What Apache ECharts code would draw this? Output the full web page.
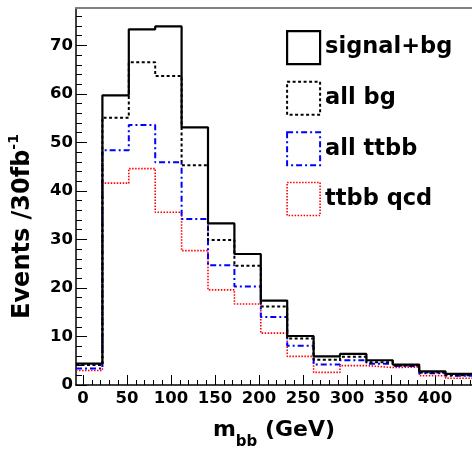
<!DOCTYPE html>
<html>
<head>
<meta charset="utf-8">
<script src="https://cdn.jsdelivr.net/npm/echarts@6/dist/echarts.min.js"></script>
<style>
  html, body { margin: 0; padding: 0; background: #fff; }
  #chart { width: 472px; height: 449px; }
</style>
</head>
<body>
<div id="chart"></div>
<script>
// Bin edges (GeV) of the histogram
const binEdges = [-8, 22, 52, 82, 112, 142, 172, 202, 232, 262, 292, 322, 352, 382, 412, 442];
// Bin contents (Events / 30 fb^-1)
const signalBg = [4.4, 59.7, 73.3, 73.9, 53.1, 33.3, 27.0, 17.4, 10.1, 5.9, 6.4, 5.1, 4.2, 2.8, 2.3];
const allBg    = [4.1, 55.1, 66.5, 63.7, 45.3, 29.9, 24.6, 16.2, 9.6, 5.2, 5.8, 4.7, 4.0, 2.6, 2.0];
const allTtbb  = [3.4, 48.4, 53.6, 45.9, 34.2, 24.7, 20.3, 14.0, 8.1, 4.2, 5.1, 4.4, 3.9, 2.4, 1.9];
const ttbbQcd  = [3.0, 41.6, 44.6, 35.6, 27.7, 19.6, 16.7, 10.7, 5.9, 2.6, 4.0, 3.6, 3.7, 1.9, 1.4];
const seriesNames = ['signal+bg', 'all bg', 'all ttbb', 'ttbb qcd'];
// Axis ticks
const xMajorTicks = [0, 50, 100, 150, 200, 250, 300, 350, 400];
const xMinorTicks = [10, 20, 30, 40, 60, 70, 80, 90, 110, 120, 130, 140, 160, 170, 180, 190, 210, 220, 230, 240, 260, 270, 280, 290, 310, 320, 330, 340, 360, 370, 380, 390, 410, 420, 430, 440];
const yMajorTicks = [0, 10, 20, 30, 40, 50, 60, 70];
const yMinorTicks = [2, 4, 6, 8, 12, 14, 16, 18, 22, 24, 26, 28, 32, 34, 36, 38, 42, 44, 46, 48, 52, 54, 56, 58, 62, 64, 66, 68, 72, 74, 76];

function histData(values) {
  const d = values.map((v, i) => [binEdges[i], v]);
  d.push([binEdges[binEdges.length - 1], values[values.length - 1]]);
  return d;
}

const FONT = "'DejaVu Sans', Verdana, sans-serif";
const chart = echarts.init(document.getElementById('chart'), null, { renderer: 'canvas' });

const styles = [
  { color: '#000000', width: 2.2, type: 'solid' },
  { color: '#000000', width: 2, type: [3, 2.5] },
  { color: '#0000ff', width: 2, type: [6, 3, 2, 3] },
  { color: '#ff0000', width: 1.6, type: [1.5, 1.5] }
];
const values = [signalBg, allBg, allTtbb, ttbbQcd];

const option = {
  animation: false,
  backgroundColor: '#ffffff',
  grid: { left: 76, right: 0, top: 8, bottom: 64, containLabel: false, outerBoundsMode: 'none' },
  legend: {
    orient: 'vertical',
    left: 286,
    top: 30,
    padding: 0,
    itemWidth: 33,
    itemHeight: 33,
    itemGap: 15.5,
    selectedMode: false,
    textStyle: { fontSize: 22.5, fontWeight: 'bold', color: '#000', fontFamily: FONT },
    data: seriesNames.map((n, i) => ({
      name: n,
      icon: 'rect',
      itemStyle: {
        color: 'rgba(255,255,255,0)',
        borderColor: styles[i].color,
        borderWidth: styles[i].width,
        borderType: styles[i].type
      }
    }))
  },
  xAxis: [
    {
      type: 'value', min: -8, max: 442, position: 'bottom',
      axisLine: { show: true, onZero: false, lineStyle: { color: '#000', width: 1.5 } },
      axisTick: { show: true, inside: true, length: 10, customValues: xMajorTicks, lineStyle: { color: '#000', width: 1 } },
      axisLabel: { customValues: xMajorTicks, fontSize: 16.5, fontWeight: 'bold', color: '#000', fontFamily: FONT, margin: 5 },
      splitLine: { show: false },
      name: '{a|m}{sub|bb}{a| (GeV)}',
      nameLocation: 'middle',
      nameGap: 34,
      nameTextStyle: {
        fontFamily: FONT, color: '#000',
        rich: {
          a: { fontSize: 22, fontWeight: 'bold', fontFamily: FONT, color: '#000', lineHeight: 28, verticalAlign: 'top' },
          sub: { fontSize: 15, fontWeight: 'bold', fontFamily: FONT, color: '#000', lineHeight: 18, verticalAlign: 'bottom', padding: [0, 0, -3, 0] }
        }
      }
    },
    {
      type: 'value', min: -8, max: 442, position: 'bottom',
      axisLine: { show: false, onZero: false },
      axisTick: { show: true, inside: true, length: 5, customValues: xMinorTicks, lineStyle: { color: '#000', width: 1 } },
      axisLabel: { show: false },
      splitLine: { show: false }
    },
    {
      type: 'value', min: -8, max: 442, position: 'top',
      axisLine: { show: true, onZero: false, lineStyle: { color: '#808080', width: 2 } },
      axisTick: { show: false },
      axisLabel: { show: false },
      splitLine: { show: false }
    }
  ],
  yAxis: [
    {
      type: 'value', min: 0, max: 77.7, position: 'left',
      axisLine: { show: true, onZero: false, lineStyle: { color: '#000', width: 1.5 } },
      axisTick: { show: true, inside: true, length: 11, customValues: yMajorTicks, lineStyle: { color: '#000', width: 1 } },
      axisLabel: { customValues: yMajorTicks, fontSize: 16.5, fontWeight: 'bold', color: '#000', fontFamily: FONT, margin: 3 },
      splitLine: { show: false },
      name: '{a|Events /30fb}{sup|-1}',
      nameLocation: 'middle',
      nameRotate: 90,
      nameGap: 41,
      nameTextStyle: {
        fontFamily: FONT, color: '#000',
        padding: [0, 60, 0, 0],
        rich: {
          a: { fontSize: 24, fontWeight: 'bold', fontFamily: FONT, color: '#000', lineHeight: 28, verticalAlign: 'bottom' },
          sup: { fontSize: 14, fontWeight: 'bold', fontFamily: FONT, color: '#000', lineHeight: 16, verticalAlign: 'top' }
        }
      }
    },
    {
      type: 'value', min: 0, max: 77.7, position: 'left',
      axisLine: { show: false, onZero: false },
      axisTick: { show: true, inside: true, length: 6, customValues: yMinorTicks, lineStyle: { color: '#000', width: 1 } },
      axisLabel: { show: false },
      splitLine: { show: false }
    }
  ],
  series: seriesNames.map((n, i) => ({
    name: n,
    type: 'line',
    step: 'end',
    xAxisIndex: 0,
    yAxisIndex: 0,
    data: histData(values[i]),
    showSymbol: false,
    symbol: 'none',
    color: styles[i].color,
    lineStyle: { color: styles[i].color, width: styles[i].width, type: styles[i].type },
    z: 10 - i
  }))
};
chart.setOption(option);
</script>
</body>
</html>
